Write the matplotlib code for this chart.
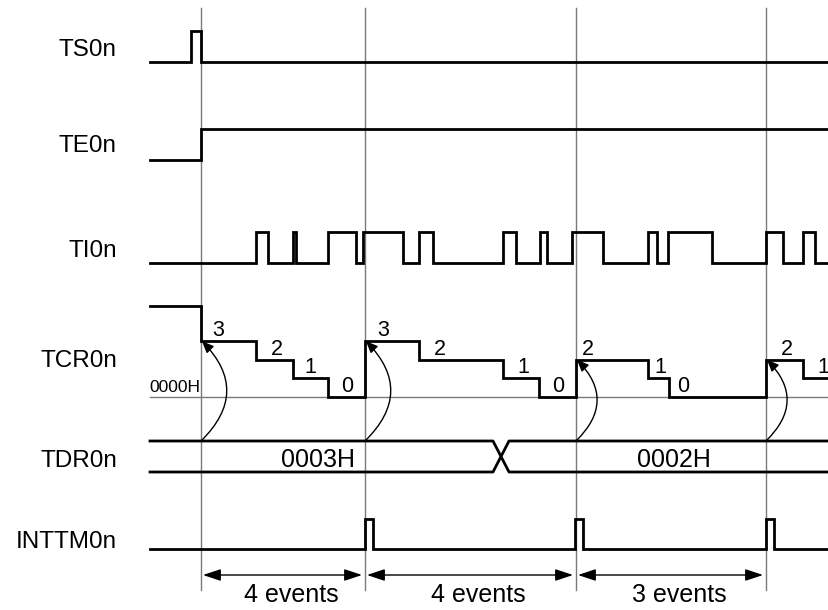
import matplotlib
matplotlib.use("Agg")
import matplotlib.pyplot as plt
from matplotlib.patches import FancyArrowPatch

plt.rcParams["font.family"] = ["Liberation Sans", "DejaVu Sans"]

# --- data (time axis in diagram units) ---
t_start, t_end = 150, 829
count_marks = [201, 365, 576, 766]          # count start / reload points

signal_names = ["TS0n", "TE0n", "TI0n", "TCR0n", "TDR0n", "INTTM0n"]
ts_edges = [191, 201]
te_edges = [201]
ti_edges = [256, 268, 293, 296, 328, 356, 363, 403, 419, 433,
            503, 516, 540, 547, 572, 603, 648, 657, 668, 712,
            766, 783, 803, 815]
tcr_times = [201, 256, 293, 328, 365, 419, 503, 539, 576, 648, 669, 766, 803]
tcr_counts = [3, 2, 1, 0, 3, 2, 1, 0, 2, 1, 0, 2, 1]
tcr_initial = 4.9                            # undefined value before start
tdr_cross = 501
tdr_values = ["0003H", "0002H"]
intt_pulses = [365, 575, 766]
intt_width = 8
event_counts = [4, 4, 3]

# --- layout ---
row_low = {"TS0n": 62, "TE0n": 160, "TI0n": 263, "INTTM0n": 549}
pulse_h = 31
label_base = [56, 152, 257, 367, 467, 548]
tcr_zero_y = 397
tcr_step = 18.6
tdr_top, tdr_bot = 441, 472
tcr_lbl_dx = [17, 21, 17, 19, 18, 21, 20, 19, 12, 12, 14, 21, 20]
LW = 2.0


def square(edges, low, high, start_high=False):
    xs, ys = [t_start], [high if start_high else low]
    cur = start_high
    for e in edges:
        nxt = not cur
        xs += [e, e]
        ys += [high if cur else low, high if nxt else low]
        cur = nxt
    xs.append(t_end)
    ys.append(high if cur else low)
    return xs, ys


fig = plt.figure(figsize=(8.29, 6.10), dpi=100)
ax = fig.add_axes([0, 0, 1, 1])
ax.set_xlim(0, 829)
ax.set_ylim(610, 0)
ax.axis("off")

# vertical reference lines
for m in count_marks:
    ax.plot([m, m], [8, 590], color="#7a7a7a", lw=1, zorder=1)

# signal names
for name, yb in zip(signal_names, label_base):
    ax.text(117, yb, name, ha="right", va="baseline", fontsize=17.5)

# TS0n, TE0n, TI0n
for name, edges in [("TS0n", ts_edges), ("TE0n", te_edges), ("TI0n", ti_edges)]:
    lo = row_low[name]
    xs, ys = square(edges, lo, lo - pulse_h)
    ax.plot(xs, ys, color="black", lw=LW, solid_joinstyle="miter", zorder=3)

# TCR0n counter
ax.plot([t_start, t_end], [tcr_zero_y, tcr_zero_y], color="#7a7a7a", lw=1, zorder=1)
ax.text(149, tcr_zero_y - 5, "0000H", ha="left", va="baseline", fontsize=12.5)
xs = [t_start] + tcr_times + [t_end]
vals = [tcr_initial] + tcr_counts + [tcr_counts[-1]]
ys = [tcr_zero_y - v * tcr_step for v in vals]
ax.step(xs, ys, where="post", color="black", lw=LW, solid_joinstyle="miter", zorder=3)
for t, c, dx in zip(tcr_times, tcr_counts, tcr_lbl_dx):
    ax.text(t + dx, tcr_zero_y - c * tcr_step - 5, str(c), ha="center",
            va="baseline", fontsize=15.5)

# reload arrows TDR -> TCR
for t, c in zip(tcr_times, tcr_counts):
    if t in count_marks:
        arr = FancyArrowPatch((t, tdr_top), (t + 1, tcr_zero_y - c * tcr_step),
                              connectionstyle="arc3,rad=0.5",
                              arrowstyle="-|>,head_length=0.7,head_width=0.3",
                              mutation_scale=10, lw=1, color="black",
                              shrinkA=0, shrinkB=0, zorder=4)
        ax.add_patch(arr)

# TDR0n data bus
h = 8
ax.plot([t_start, tdr_cross - h, tdr_cross + h, t_end],
        [tdr_top, tdr_top, tdr_bot, tdr_bot], color="black", lw=LW, zorder=3)
ax.plot([t_start, tdr_cross - h, tdr_cross + h, t_end],
        [tdr_bot, tdr_bot, tdr_top, tdr_top], color="black", lw=LW, zorder=3)
ax.text(318, 467, tdr_values[0], ha="center", va="baseline", fontsize=18)
ax.text(674, 467, tdr_values[1], ha="center", va="baseline", fontsize=18)

# INTTM0n
edges = []
for p in intt_pulses:
    edges += [p, p + intt_width]
lo = row_low["INTTM0n"]
xs, ys = square(edges, lo, lo - pulse_h + 1)
ax.plot(xs, ys, color="black", lw=LW, solid_joinstyle="miter", zorder=3)

# event spans
for a, b, n in zip(count_marks[:-1], count_marks[1:], event_counts):
    arr = FancyArrowPatch((a + 2, 575), (b - 3, 575),
                          arrowstyle="<|-|>,head_length=0.9,head_width=0.3",
                          mutation_scale=12, lw=1, color="black",
                          shrinkA=0, shrinkB=0)
    ax.add_patch(arr)
    ax.text((a + b) / 2 + 8, 602, f"{n} events", ha="center", va="baseline",
            fontsize=18)

fig.savefig("out.png", dpi=100)
